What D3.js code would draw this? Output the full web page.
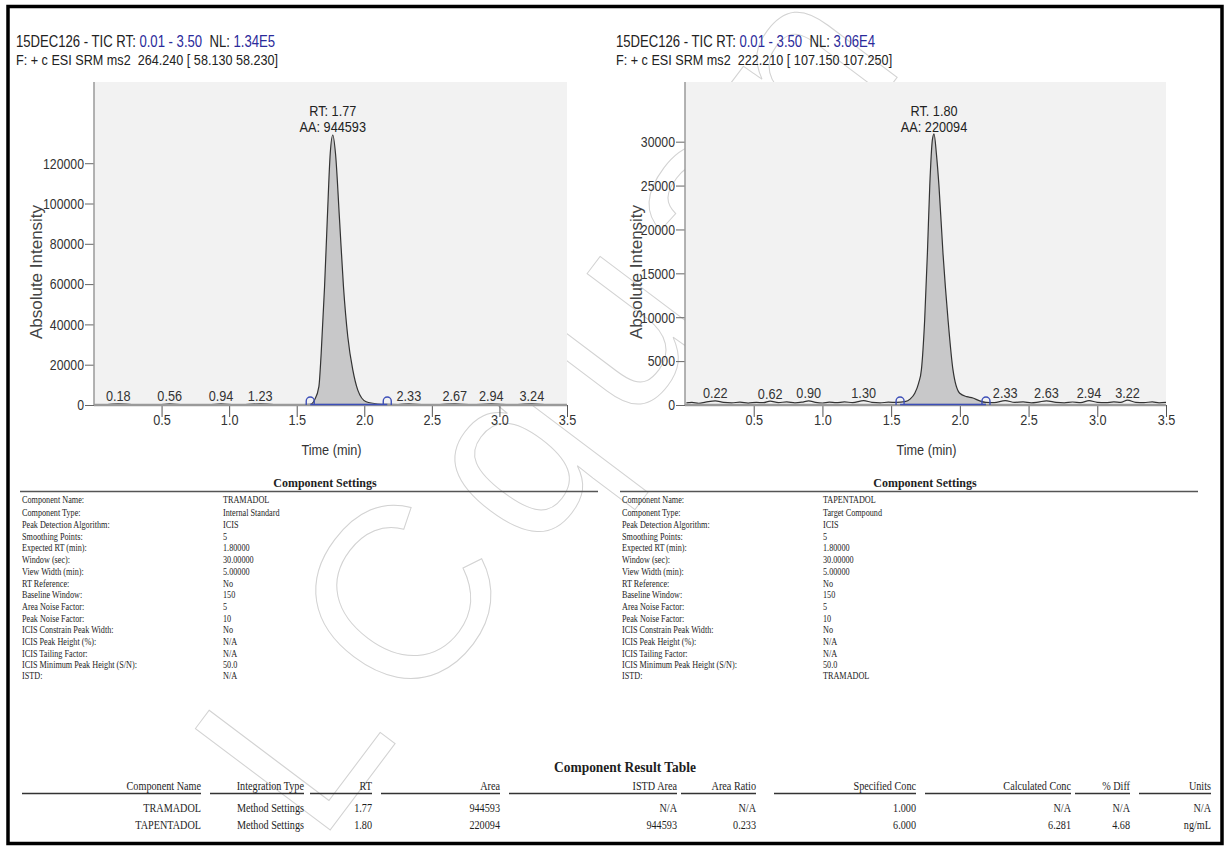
<!DOCTYPE html>
<html>
<head>
<meta charset="utf-8">
<script src="https://cdn.jsdelivr.net/npm/d3@7/dist/d3.min.js"></script>
<style>
  body { margin: 0; background: #fff; }
  text { white-space: pre; }
</style>
</head>
<body>
<div id="canevas"></div>
<script>

////////////////////////////////////////////////////////////////////////////////////////////
//                                        data                                            //
////////////////////////////////////////////////////////////////////////////////////////////

// header lines of each chromatogram (black / blue / black / blue)
let headerTramadol = ["15DEC126 - TIC RT: ", "0.01 - 3.50", "  NL: ", "1.34E5"];
let filterTramadol = "F: + c ESI SRM ms2  264.240 [ 58.130 58.230]";
let headerTapentadol = ["15DEC126 - TIC RT: ", "0.01 - 3.50", "  NL: ", "3.06E4"];
let filterTapentadol = "F: + c ESI SRM ms2  222.210 [ 107.150 107.250]";

// top of each plot (intensity)
let plotMax = [160300, 36800];

let traceTramadol = [
  [0.01, 150], [0.10, 250], [0.18, 600], [0.28, 200], [0.40, 250], [0.48, 200], [0.56, 550],
  [0.66, 200], [0.75, 250], [0.85, 200], [0.94, 550], [1.04, 200], [1.12, 250], [1.23, 600],
  [1.33, 200], [1.45, 250], [1.55, 250], [1.60, 300], [1.632, 2500], [1.664, 9100],
  [1.681, 25600], [1.706, 58700], [1.726, 91800], [1.748, 124800], [1.767, 134000],
  [1.787, 124800], [1.817, 91800], [1.846, 58700], [1.878, 33900], [1.915, 17400],
  [1.952, 7400], [2.014, 1600], [2.10, 500], [2.17, 300], [2.25, 250], [2.33, 550],
  [2.45, 200], [2.56, 250], [2.67, 550], [2.80, 200], [2.94, 550], [3.08, 200], [3.24, 550],
  [3.36, 200], [3.50, 150]
];
let traceTapentadol = [
  [0.01, 250], [0.05, 300], [0.10, 200], [0.15, 330], [0.22, 480], [0.28, 300], [0.34, 250],
  [0.40, 320], [0.46, 220], [0.52, 300], [0.57, 260], [0.62, 450], [0.68, 280], [0.74, 350],
  [0.80, 250], [0.85, 320], [0.90, 470], [0.95, 300], [1.00, 230], [1.05, 330], [1.10, 260],
  [1.16, 350], [1.22, 280], [1.30, 500], [1.36, 300], [1.42, 250], [1.48, 320], [1.54, 300],
  [1.60, 380], [1.64, 700], [1.672, 1340], [1.70, 2500], [1.72, 4000], [1.744, 9720],
  [1.764, 17350], [1.781, 24970], [1.80, 30200], [1.812, 30900], [1.83, 28500],
  [1.848, 24970], [1.877, 17350], [1.914, 9720], [1.95, 4000], [1.999, 1340], [2.05, 950],
  [2.095, 800], [2.14, 500], [2.19, 300], [2.25, 280], [2.33, 500], [2.40, 300], [2.46, 350],
  [2.52, 250], [2.57, 330], [2.63, 480], [2.70, 300], [2.76, 250], [2.82, 340], [2.88, 280],
  [2.94, 500], [3.00, 300], [3.06, 260], [3.12, 350], [3.17, 300], [3.22, 560], [3.28, 300],
  [3.34, 280], [3.40, 350], [3.45, 250], [3.50, 300]
];

// labelled apex times
let labelsTramadol = [0.18, 0.56, 0.94, 1.23, 2.33, 2.67, 2.94, 3.24];
let labelsTapentadol = [0.22, 0.62, 0.90, 1.30, 2.33, 2.63, 2.94, 3.22];

// integration limits and peak info
let integTramadol = [1.60, 2.17];
let integTapentadol = [1.565, 2.19];
let peakTramadol = ["RT: 1.77", "AA: 944593", 1.767];
let peakTapentadol = ["RT. 1.80", "AA: 220094", 1.812];

// y axis ticks [minor step, major step, last tick]
let yTicksTramadol = [5000, 20000, 130000];
let yTicksTapentadol = [1000, 5000, 30000];

// component settings
let settingNames = ["Component Name:", "Component Type:", "Peak Detection Algorithm:", "Smoothing Points:",
  "Expected RT (min):", "Window (sec):", "View Width (min):", "RT Reference:", "Baseline Window:",
  "Area Noise Factor:", "Peak Noise Factor:", "ICIS Constrain Peak Width:", "ICIS Peak Height (%):",
  "ICIS Tailing Factor:", "ICIS Minimum Peak Height (S/N):", "ISTD:"];
let settingsTramadol = ["TRAMADOL", "Internal Standard", "ICIS", "5", "1.80000", "30.00000", "5.00000",
  "No", "150", "5", "10", "No", "N/A", "N/A", "50.0", "N/A"];
let settingsTapentadol = ["TAPENTADOL", "Target Compound", "ICIS", "5", "1.80000", "30.00000", "5.00000",
  "No", "150", "5", "10", "No", "N/A", "N/A", "50.0", "TRAMADOL"];

// result table
let resultColumns = ["Component Name", "Integration Type", "RT", "Area", "ISTD Area", "Area Ratio",
  "Specified Conc", "Calculated Conc", "% Diff", "Units"];
let resultTramadol = ["TRAMADOL", "Method Settings", "1.77", "944593", "N/A", "N/A", "1.000", "N/A", "N/A", "N/A"];
let resultTapentadol = ["TAPENTADOL", "Method Settings", "1.80", "220094", "944593", "0.233", "6.000", "6.281", "4.68", "ng/mL"];


////////////////////////////////////////////////////////////////////////////////////////////
//                                        canvas                                          //
////////////////////////////////////////////////////////////////////////////////////////////

let largeur = 1230;
let hauteur = 848;

let sans = "'Liberation Sans', Arial, sans-serif";
let serif = "'Liberation Serif', 'Times New Roman', serif";
let bleu = "#3d4fb8";
let serre = 0.82; // horizontal squeeze to mimic a narrow face

let canevas = d3.select("#canevas")
  .append("svg")
  .attr("width", largeur)
  .attr("height", hauteur);

canevas.append("rect")
  .attr("width", "100%")
  .attr("height", "100%")
  .attr("fill", "#fff");

// watermark
canevas.append("text")
  .attr("transform", "translate(318,846) rotate(-53)")
  .attr("font-family", sans)
  .attr("font-size", 245)
  .attr("letter-spacing", 24)
  .attr("fill", "none")
  .attr("stroke", "#d2d2d2")
  .attr("stroke-width", 1)
  .text("LCquan");

// narrow text helper
function texteEtroit(g, x, y, s, size, anchor, color) {
  return g.append("text")
    .attr("transform", `translate(${x},${y}) scale(${serre},1)`)
    .attr("text-anchor", anchor)
    .attr("font-family", sans)
    .attr("font-size", size)
    .attr("fill", color)
    .text(s);
}


////////////////////////////////////////////////////////////////////////////////////////////
//                                    chromatograms                                       //
////////////////////////////////////////////////////////////////////////////////////////////

let plotTop = 82;
let plotBottom = 405;

function dessiner(p) {
  let g = canevas.append("g");

  let x = d3.scaleLinear().domain([0, 3.5]).range([p.x0, p.x1]);
  let y = d3.scaleLinear().domain([0, p.yMax]).range([plotBottom, plotTop]);

  // header
  let h = texteEtroit(g, p.hx, 47, null, 16, "start", "#222");
  p.header.forEach((s, i) => h.append("tspan").attr("fill", i % 2 ? "#2a2a9a" : "#222").text(s));
  texteEtroit(g, p.hx, 65, p.filter, 15.4, "start", "#222");

  // plot background
  g.append("rect")
    .attr("x", p.x0).attr("y", plotTop)
    .attr("width", p.x1 - p.x0).attr("height", plotBottom - plotTop)
    .attr("fill", "#f2f2f2");

  // integrated area
  let inside = p.trace.filter(d => d[0] >= p.integ[0] && d[0] <= p.integ[1]);
  g.append("path")
    .datum(inside)
    .attr("fill", "#c8c8c9")
    .attr("d", d3.area().x(d => x(d[0])).y0(plotBottom).y1(d => y(d[1])).curve(d3.curveMonotoneX));

  // trace
  g.append("path")
    .datum(p.trace)
    .attr("fill", "none")
    .attr("stroke", "#333")
    .attr("stroke-width", 1.2)
    .attr("d", d3.line().x(d => x(d[0])).y(d => y(d[1])).curve(d3.curveMonotoneX));

  // y axis
  let [ymin, ymaj, ylast] = p.yTicks;
  let ay = g.append("g").attr("transform", `translate(${p.x0},0)`);
  ay.call(d3.axisLeft(y).tickValues(d3.range(0, ylast + 1, ymin)).tickSize(5).tickFormat(""));
  ay.call(d3.axisLeft(y).tickValues(d3.range(0, ylast + 1, ymaj)).tickSize(9).tickPadding(1).tickFormat(d3.format("d")));
  ay.selectAll(".domain").remove();
  ay.selectAll("line").attr("stroke", "#666");
  ay.selectAll("text")
    .attr("x", -10 / serre)
    .attr("transform", `scale(${serre},1)`)
    .attr("font-family", sans).attr("font-size", 15).attr("fill", "#333");
  g.append("line")
    .attr("x1", p.x0).attr("x2", p.x0).attr("y1", plotTop).attr("y2", plotBottom)
    .attr("stroke", "#9a9a9a").attr("stroke-width", 1.5);

  // x axis
  let ax = g.append("g").attr("transform", `translate(0,${plotBottom})`);
  ax.call(d3.axisBottom(x).tickValues(d3.range(1, 36).map(i => i / 10)).tickSize(7).tickFormat(""));
  ax.call(d3.axisBottom(x).tickValues(d3.range(1, 8).map(i => i / 2)).tickSize(12).tickFormat(d3.format(".1f")));
  ax.selectAll(".domain").remove();
  ax.selectAll("line").attr("stroke", "#555");
  ax.selectAll("text")
    .attr("y", 9)
    .attr("transform", `scale(${serre},1)`)
    .attr("font-family", sans).attr("font-size", 15.5).attr("fill", "#333");
  g.append("line")
    .attr("x1", p.x0).attr("x2", p.x1).attr("y1", plotBottom).attr("y2", plotBottom)
    .attr("stroke", "#9a9a9a").attr("stroke-width", 2.5);

  // integration baseline and markers
  g.append("line")
    .attr("x1", x(p.integ[0])).attr("x2", x(p.integ[1]))
    .attr("y1", plotBottom - 0.5).attr("y2", plotBottom - 0.5)
    .attr("stroke", bleu).attr("stroke-width", 1.4);
  g.selectAll(".marqueur")
    .data(p.integ)
    .enter()
    .append("path")
      .attr("fill", "none").attr("stroke", bleu).attr("stroke-width", 1.4)
      .attr("d", d => {
        let cx = x(d);
        return `M${cx - 4},${plotBottom} L${cx - 4},${plotBottom - 4} A4,4 0 0 1 ${cx + 4},${plotBottom - 4} L${cx + 4},${plotBottom}`;
      });

  // small peak labels
  p.labels.forEach(d => {
    let v = p.trace.find(t => t[0] === d)[1];
    texteEtroit(g, x(d), y(v) - 2.5, d.toFixed(2), 15.5, "middle", "#333");
  });

  // main peak label
  texteEtroit(g, x(p.peak[2]), 116, p.peak[0], 15.5, "middle", "#222");
  texteEtroit(g, x(p.peak[2]), 132, p.peak[1], 15.5, "middle", "#222");

  // axis titles
  g.append("text")
    .attr("transform", `translate(${p.x0 - p.titleGap},272) rotate(-90)`)
    .attr("text-anchor", "middle")
    .attr("font-family", sans).attr("font-size", 17).attr("fill", "#444")
    .text("Absolute Intensity");
  texteEtroit(g, (p.x0 + p.x1) / 2 + 1, 455, "Time (min)", 15.5, "middle", "#333");
}

dessiner({ x0: 94, x1: 567, hx: 16, titleGap: 52, yMax: plotMax[0], header: headerTramadol, filter: filterTramadol,
  trace: traceTramadol, labels: labelsTramadol, integ: integTramadol, peak: peakTramadol, yTicks: yTicksTramadol });
dessiner({ x0: 685, x1: 1166, hx: 616, titleGap: 43, yMax: plotMax[1], header: headerTapentadol, filter: filterTapentadol,
  trace: traceTapentadol, labels: labelsTapentadol, integ: integTapentadol, peak: peakTapentadol, yTicks: yTicksTapentadol });


////////////////////////////////////////////////////////////////////////////////////////////
//                                  component settings                                    //
////////////////////////////////////////////////////////////////////////////////////////////

let rowY = [503, 516, 528, 539.5, 551, 563, 574.5, 586.5, 598, 609.5, 621.5, 633, 644.5, 656.5, 668, 678.5];

function serifText(g, x, y, s, size, anchor, weight, sx) {
  g.append("text")
    .attr("transform", `translate(${x},${y}) scale(${sx},1)`)
    .attr("text-anchor", anchor)
    .attr("font-family", serif)
    .attr("font-size", size)
    .attr("font-weight", weight)
    .attr("fill", "#1e1e1e")
    .text(s);
}

function reglages(x0, valeurs) {
  let g = canevas.append("g");
  serifText(g, x0 + 303, 487, "Component Settings", 13, "middle", "bold", 0.92);
  g.append("line")
    .attr("x1", x0 - 2).attr("x2", x0 + 576).attr("y1", 491.5).attr("y2", 491.5)
    .attr("stroke", "#555").attr("stroke-width", 1.5);
  settingNames.forEach((n, i) => {
    serifText(g, x0, rowY[i], n, 10.5, "start", "normal", 0.78);
    serifText(g, x0 + 201, rowY[i], valeurs[i], 10.5, "start", "normal", 0.78);
  });
}

reglages(22, settingsTramadol);
reglages(622, settingsTapentadol);


////////////////////////////////////////////////////////////////////////////////////////////
//                                    result table                                        //
////////////////////////////////////////////////////////////////////////////////////////////

let colRight = [201, 304, 372, 500, 677, 756, 916, 1071, 1130, 1211];
let colLeft = [22, 210, 310, 381, 509, 681, 774, 925, 1075, 1139];

let tab = canevas.append("g");
serifText(tab, 625, 772, "Component Result Table", 14, "middle", "bold", 0.96);
resultColumns.forEach((c, i) => {
  serifText(tab, colRight[i], 790, c, 12, "end", "normal", 0.85);
  tab.append("line")
    .attr("x1", colLeft[i]).attr("x2", colRight[i]).attr("y1", 793.5).attr("y2", 793.5)
    .attr("stroke", "#333").attr("stroke-width", 1.3);
  serifText(tab, colRight[i], 812, resultTramadol[i], 12, "end", "normal", 0.85);
  serifText(tab, colRight[i], 829, resultTapentadol[i], 12, "end", "normal", 0.85);
});

// outer frame
canevas.append("rect")
  .attr("x", 8).attr("y", 6.5)
  .attr("width", 1214).attr("height", 837)
  .attr("fill", "none")
  .attr("stroke", "#000")
  .attr("stroke-width", 3.5);

</script>
</body>
</html>
